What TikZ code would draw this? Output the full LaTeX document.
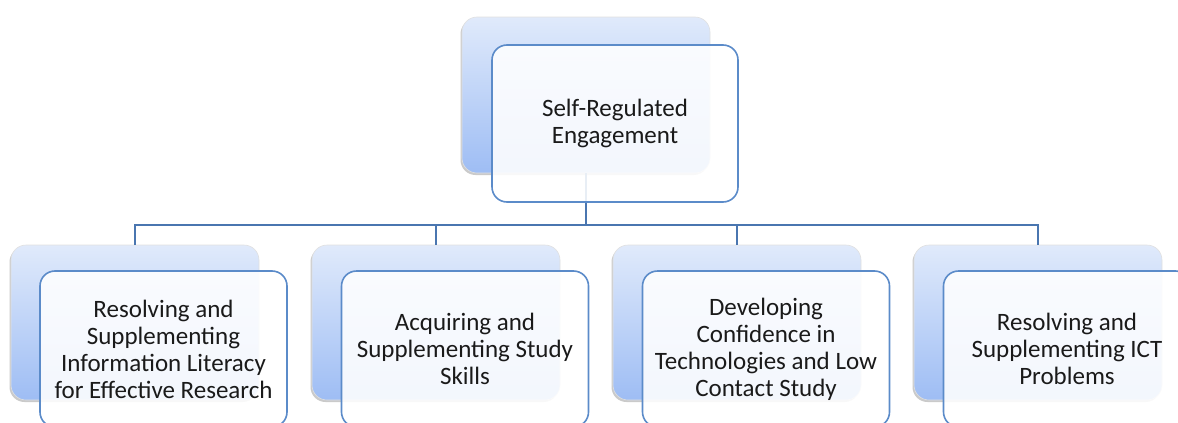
\documentclass[tikz,border=0pt]{standalone}
\usepackage{fontspec}
\setmainfont{Carlito}
\usetikzlibrary{shadows,calc}
\definecolor{bordblue}{HTML}{5B8BC9}
\definecolor{lineblue}{HTML}{4A76B0}
\definecolor{backtop}{HTML}{E0EAFB}
\definecolor{backbot}{HTML}{9EBDF4}
\definecolor{txt}{HTML}{1A1A1A}
\tikzset{
  backbox/.style={rectangle, rounded corners=15pt, minimum width=248pt, minimum height=156pt,
    top color=backtop, bottom color=backbot, draw=black!12, line width=0.6pt,
    drop shadow={shadow xshift=-1.5pt, shadow yshift=-2pt, opacity=0.35, fill=black!60}},
  frontbox/.style={rectangle, rounded corners=15pt, minimum width=247pt, minimum height=156pt,
    draw=bordblue, line width=1.6pt, fill=white, fill opacity=0.88, text opacity=1,
    align=center, text=txt, font=\fontsize{25}{27}\selectfont},
  conn/.style={draw=lineblue, line width=2pt}
}
\begin{document}
\begin{tikzpicture}[x=1pt,y=-1pt]
\useasboundingbox (0,0) rectangle (1178,423);
\clip (0,0) rectangle (1178,423);
% back boxes
\node[backbox] (tb) at (586,95) {};
\node[backbox, minimum height=155pt] (b1) at (135,322.5) {};
\node[backbox, minimum height=155pt] (b2) at (436,322.5) {};
\node[backbox, minimum height=155pt] (b3) at (737,322.5) {};
\node[backbox, minimum height=155pt] (b4) at (1038,322.5) {};
% connectors
\coordinate (hj) at ($(tb.south)+(0,52)$);
\draw[conn] (tb.south) -- (hj) -| (b1.north);
\draw[conn] (hj) -| (b2.north);
\draw[conn] (hj) -| (b3.north);
\draw[conn] (hj) -| (b4.north);
% front boxes
\node[frontbox, minimum width=246pt, minimum height=157pt] (tf) at (615,123.5) {Self-Regulated\\Engagement};
\node[frontbox] (f1) at (163.5,349) {Resolving and\\Supplementing\\Information Literacy\\for Effective Research};
\node[frontbox] (f2) at (465,349) {Acquiring and\\Supplementing Study\\Skills};
\node[frontbox] (f3) at (766,349) {Developing\\Confidence in\\Technologies and Low\\Contact Study};
\node[frontbox] (f4) at (1067,349) {Resolving and\\Supplementing ICT\\Problems};
\end{tikzpicture}
\end{document}
